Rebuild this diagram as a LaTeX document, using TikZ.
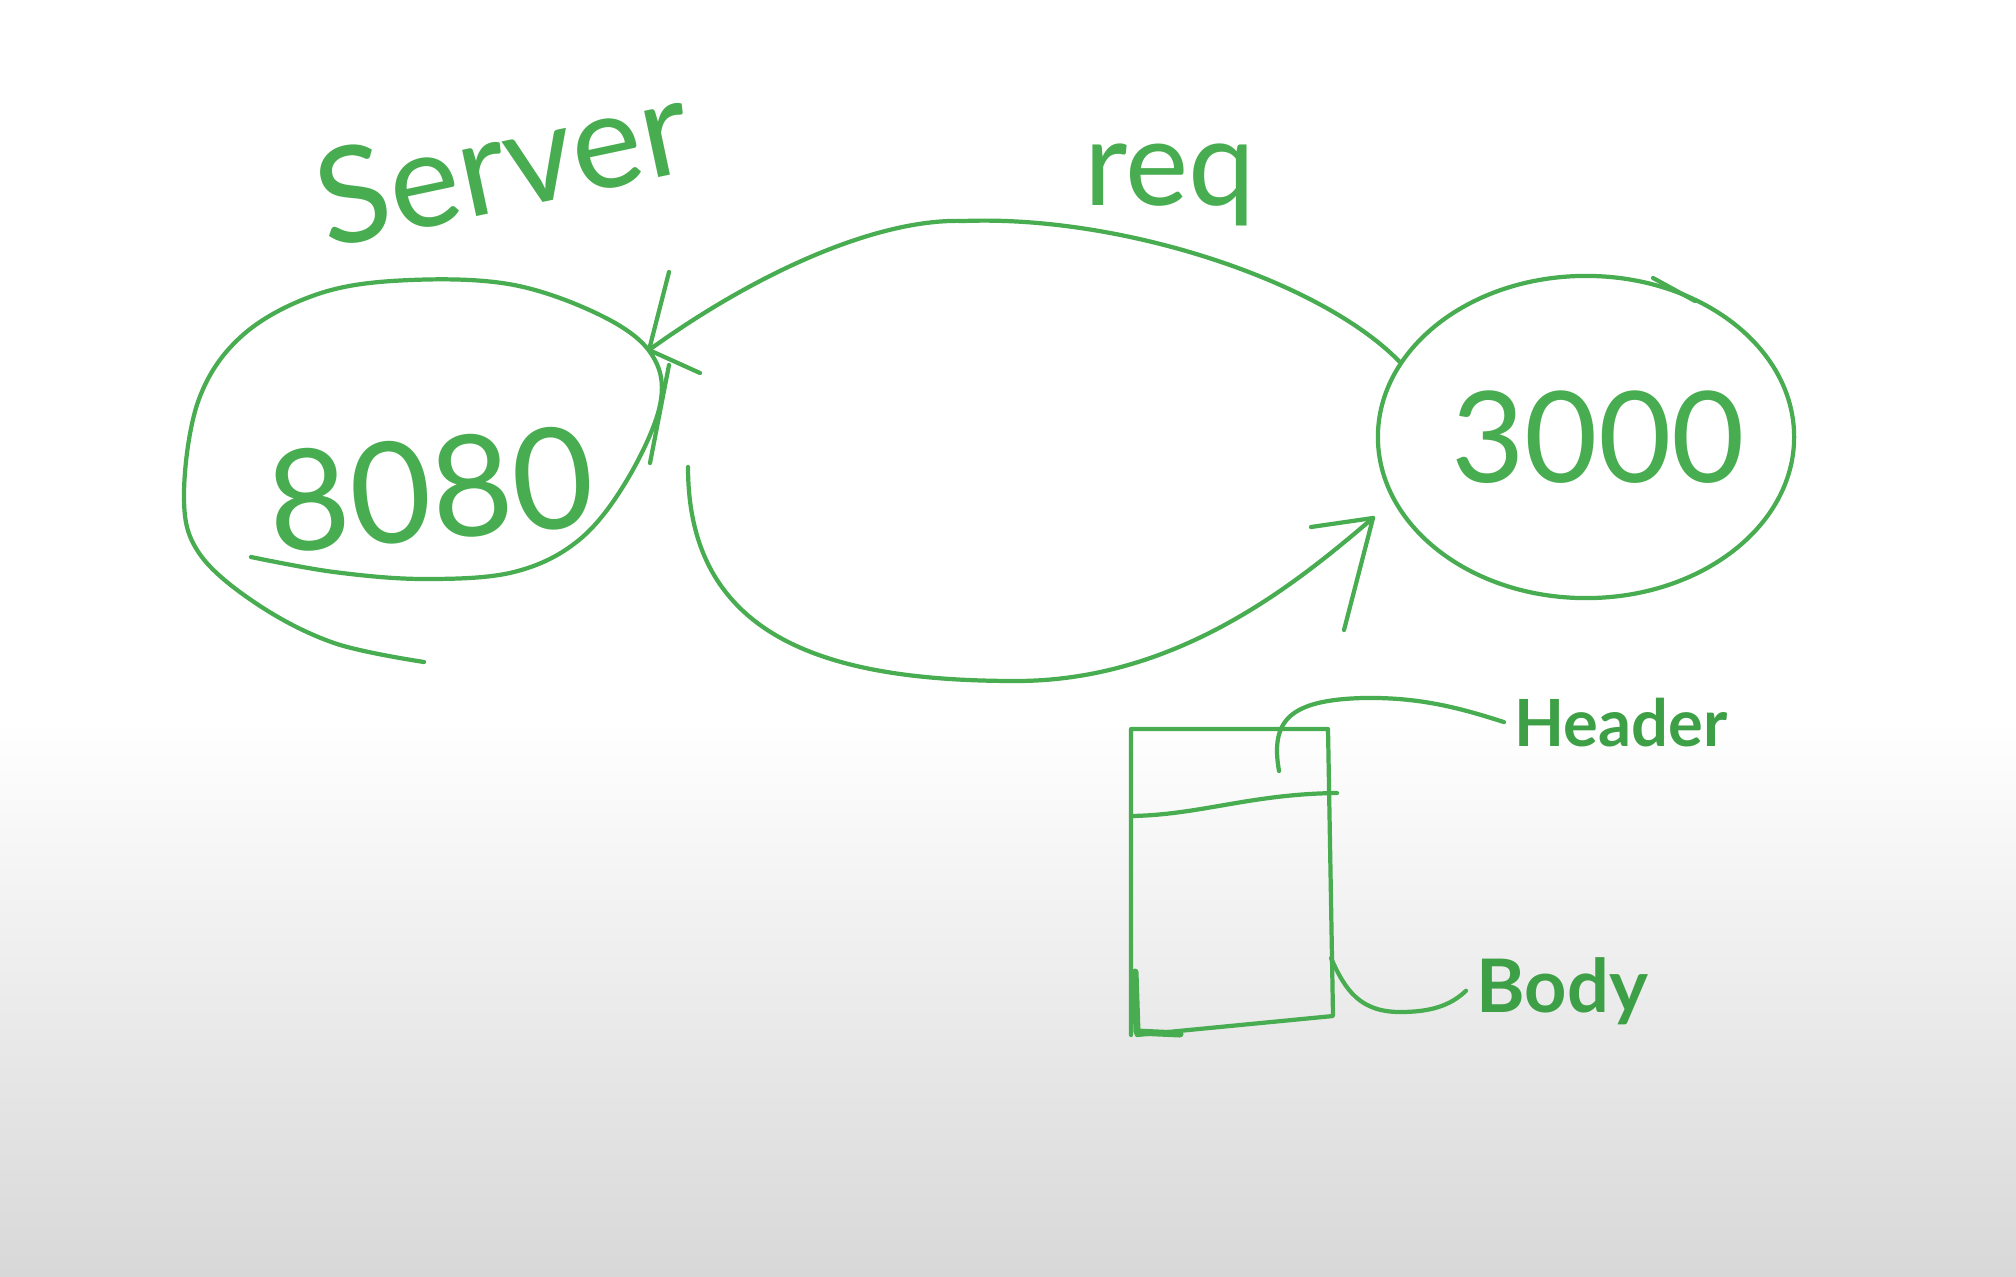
\documentclass[tikz,border=0pt]{standalone}
\usepackage{fontspec}
\setmainfont{Lato}
\usepackage{tikz}
\usetikzlibrary{calc,shapes.geometric}
\definecolor{pen}{RGB}{72,172,80}
\definecolor{ink}{RGB}{62,160,70}
\definecolor{bgfloor}{RGB}{216,216,216}

\begin{document}
\begin{tikzpicture}[x=0.01cm,y=-0.01cm]
    \tikzstyle{inkline}=[draw=pen,line width=1.2pt,line cap=round,line join=round]
    \tikzstyle{scrawl}=[text=pen,inner sep=0pt]
    \tikzstyle{tag}=[text=ink,inner sep=0.1cm]
    \useasboundingbox (0,0) rectangle (2016,1276);
    \fill[white] (0,0) rectangle (2016,721);
    \shade[top color=white,bottom color=bgfloor] (0,720) rectangle (2016,1276);
    % server side
    \draw[inkline] plot[smooth,tension=0.6] coordinates {(251,557) (334,572) (424,579) (514,572) (579,540) (627,480) (660,405) (652,355) (604,317) (514,285) (411,280) (321,293) (244,334) (199,399) (184,495) (199,553) (257,604) (334,643) (424,662)};
    \node(ServerPort)[scrawl,rotate=5,font=\fontsize{40}{40}\selectfont] at (431,489) {8080};
    \node(Server)[scrawl,rotate=12,font=\fontsize{38}{38}\selectfont] at (502,162) {Server};
    % client side
    \node(Client)[ellipse,inkline,minimum width=4.16cm,minimum height=3.22cm] at (1586,437) {};
    \node(ClientPort)[scrawl,font=\fontsize{36}{36}\selectfont] at (1598,437) {3000};
    \draw[inkline] (1653,278) -- (1695,301);
    % request and response
    \coordinate (ReqTip) at (649,350);
    \coordinate (ResTail) at (688,467);
    \coordinate (ResTip) at (1373,518);
    \draw[inkline] (Client.158) .. controls (1320,280) and (1120,215) .. (964,221) .. controls (880,218) and (760,270) .. (ReqTip);
    \draw[inkline] (ReqTip) -- ++(20,-78) (ReqTip) -- ++(51,23);
    \draw[inkline] (669,365) -- (650,463);
    \node(Req)[scrawl,font=\fontsize{34}{34}\selectfont] at (1170,185) {req};
    \draw[inkline] (ResTail) .. controls (688,640) and (830,681) .. (1016,681) .. controls (1180,681) and (1300,580) .. (ResTip);
    \draw[inkline] (ResTip) -- ++(-62,9) (ResTip) -- ++(-29,112);
    % message
    \draw[inkline] (1131,1035) -- (1131,729) -- (1328,729) -- (1333,1016) -- (1137,1035);
    \draw[inkline,line width=2pt] (1135,972) -- (1137,1032) -- (1180,1034);
    \draw[inkline] (1131,816) .. controls (1200,815) and (1250,794) .. (1337,793);
    \node(Header)[tag,anchor=base west,font=\fontsize{18.5}{19}\selectfont\bfseries] at (1504,746) {Header};
    \node(Body)[tag,anchor=base west,font=\fontsize{21}{22}\selectfont\bfseries] at (1466,1012) {Body};
    \draw[inkline] (1279,771) .. controls (1270,720) and (1290,700) .. (1363,698) .. controls (1420,697) and (1460,708) .. (Header.west);
    \draw[inkline] (1331,958) .. controls (1345,990) and (1360,1012) .. (1400,1012) .. controls (1430,1012) and (1450,1006) .. (Body.west);
\end{tikzpicture}
\end{document}
